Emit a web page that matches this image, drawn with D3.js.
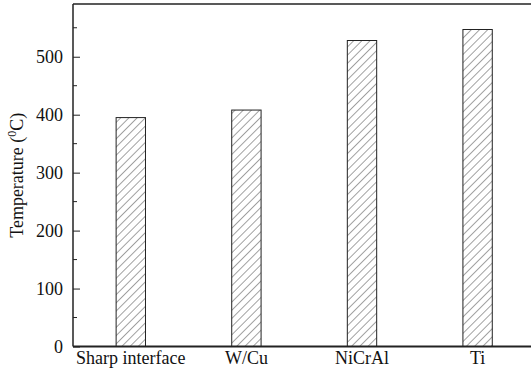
<!DOCTYPE html>
<html>
<head>
<meta charset="utf-8">
<script src="https://cdn.jsdelivr.net/npm/d3@7/dist/d3.min.js"></script>
<style>
  html, body { margin: 0; padding: 0; background: #fff; }
  svg { display: block; }
  text { font-family: "Liberation Serif", "Times New Roman", serif; fill: #111; }
</style>
</head>
<body>
<svg id="chart" width="531" height="377"></svg>
<script>
// Peak temperature for each interlayer configuration
const categories = ["Sharp interface", "W/Cu", "NiCrAl", "Ti"];
const temperatures = [395, 408, 528, 547];
const majorTicks = [0, 100, 200, 300, 400, 500];
const minorTicks = [50, 150, 250, 350, 450, 550];

const svg = d3.select("#chart");
const m = { left: 73, top: 4, bottom: 346.5, right: 535.4 };
const FS = 18;

const x = d3.scaleBand()
  .domain(categories)
  .range([m.left, m.right])
  .paddingInner(0.746)
  .paddingOuter(0.373);

const y = d3.scaleLinear().domain([0, 591]).range([m.bottom, m.top]);

// diagonal hatch fill
const defs = svg.append("defs");
const pat = defs.append("pattern")
  .attr("id", "hatch")
  .attr("patternUnits", "userSpaceOnUse")
  .attr("width", 5.8).attr("height", 5.8)
  .attr("patternTransform", "rotate(45)");
pat.append("rect").attr("width", 5.8).attr("height", 5.8).attr("fill", "#fff");
pat.append("line")
  .attr("x1", 0).attr("y1", 0).attr("x2", 0).attr("y2", 5.8)
  .attr("stroke", "#444").attr("stroke-width", 1);

// bars
svg.append("g").selectAll("rect")
  .data(categories)
  .join("rect")
  .attr("x", d => x(d))
  .attr("y", (d, i) => y(temperatures[i]))
  .attr("width", x.bandwidth())
  .attr("height", (d, i) => y(0) - y(temperatures[i]))
  .attr("fill", "url(#hatch)")
  .attr("stroke", "#222")
  .attr("stroke-width", 1);

// frame
svg.append("line")
  .attr("x1", m.left).attr("x2", m.right)
  .attr("y1", m.top).attr("y2", m.top)
  .attr("stroke", "#222").attr("stroke-width", 1.5);
svg.append("line")
  .attr("x1", m.left).attr("x2", m.right)
  .attr("y1", m.bottom).attr("y2", m.bottom)
  .attr("stroke", "#222").attr("stroke-width", 1.8);

// y axis with inward ticks
const yAxis = d3.axisRight(y)
  .tickValues(majorTicks)
  .tickSize(7)
  .tickFormat(d3.format("d"));
const gy = svg.append("g")
  .attr("transform", `translate(${m.left},0)`)
  .call(yAxis)
  .attr("font-size", FS)
  .attr("font-family", "Liberation Serif, serif");
gy.select(".domain").remove();
gy.append("line")
  .attr("x1", 0).attr("x2", 0)
  .attr("y1", m.top).attr("y2", m.bottom)
  .attr("stroke", "#222").attr("stroke-width", 1.5);
gy.selectAll(".tick line").attr("stroke", "#222").attr("stroke-width", 1);
gy.selectAll(".tick text")
  .attr("x", -10)
  .attr("text-anchor", "end")
  .attr("fill", "#111");

gy.selectAll(".minor")
  .data(minorTicks)
  .join("line")
  .attr("class", "minor")
  .attr("x1", 0).attr("x2", 4)
  .attr("y1", d => y(d)).attr("y2", d => y(d))
  .attr("stroke", "#222").attr("stroke-width", 1);

// category labels
svg.append("g").selectAll("text")
  .data(categories)
  .join("text")
  .attr("x", d => x(d) + x.bandwidth() / 2)
  .attr("y", 364)
  .attr("text-anchor", "middle")
  .attr("font-size", FS)
  .text(d => d);

// y-axis title
const title = svg.append("text")
  .attr("transform", `translate(23,${(m.top + m.bottom) / 2}) rotate(-90)`)
  .attr("text-anchor", "middle")
  .attr("font-size", FS);
title.append("tspan").text("Temperature (");
title.append("tspan").attr("font-size", 12).attr("dy", -7).text("0");
title.append("tspan").attr("dy", 7).text("C)");
</script>
</body>
</html>
